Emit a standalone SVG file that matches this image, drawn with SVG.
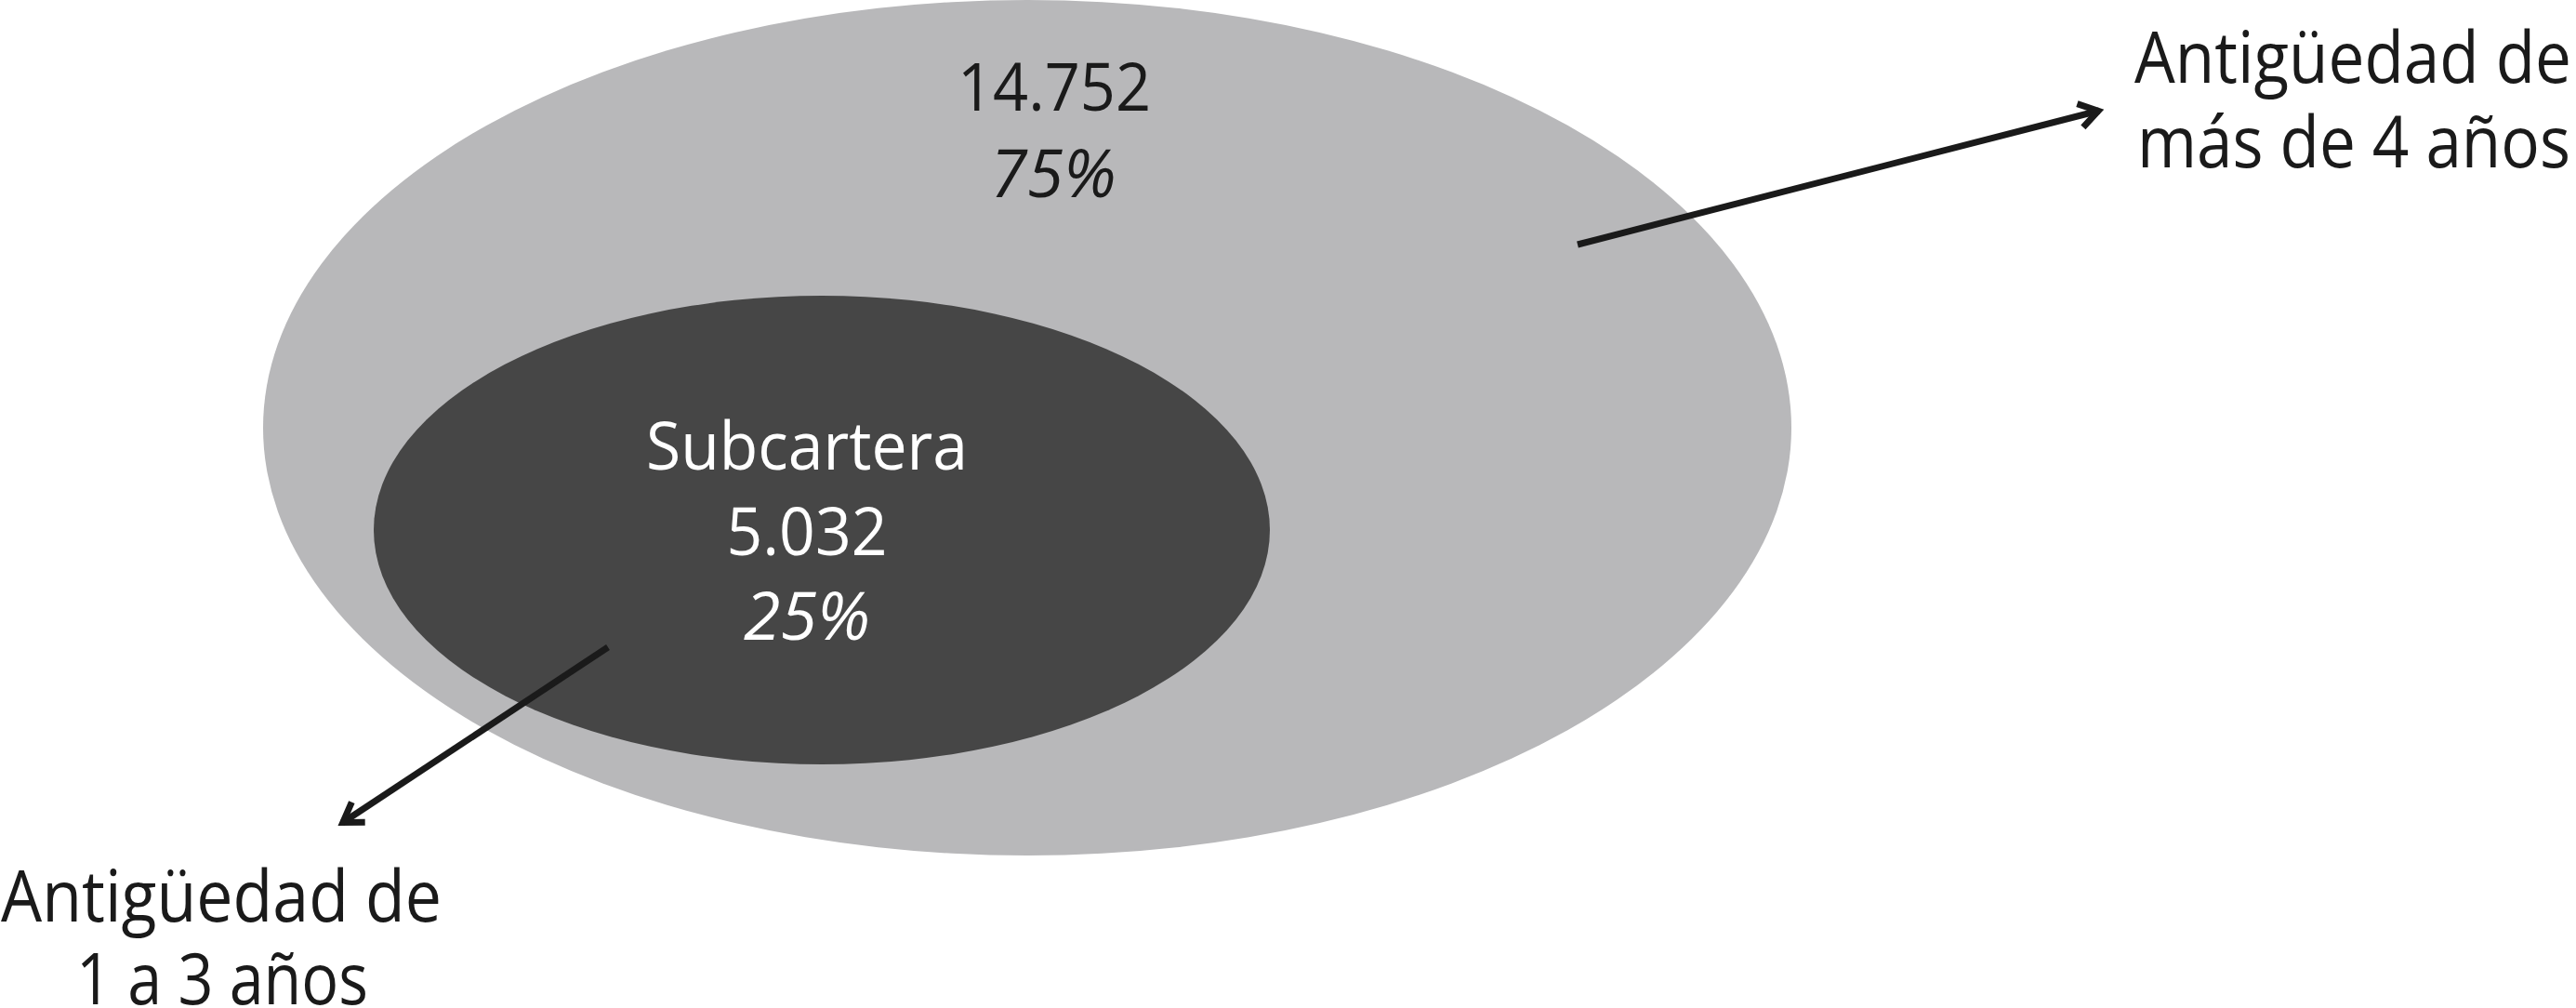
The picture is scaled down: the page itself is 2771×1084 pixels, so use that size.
<svg xmlns="http://www.w3.org/2000/svg" width="2771" height="1084" viewBox="0 0 2771 1084">
<style>
.t{font-family:"Open Sans","Noto Sans","Liberation Sans",sans-serif;font-size:71px;text-anchor:middle}
.lbl{font-family:"Open Sans","Noto Sans","Liberation Sans",sans-serif;font-size:76px;text-anchor:middle;fill:#1a1a1a}
.dk{fill:#1a1a1a}
.wh{fill:#ffffff}
.it{font-style:italic}
.conn{stroke:#1a1a1a;stroke-width:7;fill:none;marker-end:url(#ah)}
</style>
<defs>
<marker id="ah" markerUnits="userSpaceOnUse" markerWidth="60" markerHeight="60" viewBox="-30 -30 60 60" refX="0" refY="0" orient="auto">
<path d="M -21 -13 L -1 0 L -21 13" fill="none" stroke="#1a1a1a" stroke-width="7"/>
</marker>
</defs>
<rect width="2771" height="1084" fill="#ffffff"/>
<g id="outer">
<ellipse cx="1105" cy="460" rx="822" ry="460" fill="#b8b8ba"/>
<text class="t dk" x="1134" y="119" textLength="208" lengthAdjust="spacingAndGlyphs">14.752</text>
<text class="t dk it" x="1133" y="212" textLength="135" lengthAdjust="spacingAndGlyphs">75%</text>
</g>
<g id="inner">
<ellipse cx="884" cy="570" rx="482" ry="252" fill="#464646"/>
<text class="t wh" x="868" y="505" textLength="346" lengthAdjust="spacingAndGlyphs">Subcartera</text>
<text class="t wh" x="868" y="597" textLength="173" lengthAdjust="spacingAndGlyphs">5.032</text>
<text class="t wh it" x="868" y="688" textLength="136" lengthAdjust="spacingAndGlyphs">25%</text>
</g>
<g id="label-right">
<text class="lbl" x="2531" y="89" textLength="470" lengthAdjust="spacingAndGlyphs">Antigüedad de</text>
<text class="lbl" x="2532" y="180" textLength="466" lengthAdjust="spacingAndGlyphs">más de 4 años</text>
</g>
<g id="label-left">
<text class="lbl" x="238" y="991" textLength="474" lengthAdjust="spacingAndGlyphs">Antigüedad de</text>
<text class="lbl" x="239" y="1080" textLength="314" lengthAdjust="spacingAndGlyphs">1 a 3 años</text>
</g>
<g id="connectors">
<line class="conn" x1="1697" y1="263" x2="2258" y2="119"/>
<line class="conn" x1="654" y1="696" x2="368" y2="885"/>
</g>
</svg>
